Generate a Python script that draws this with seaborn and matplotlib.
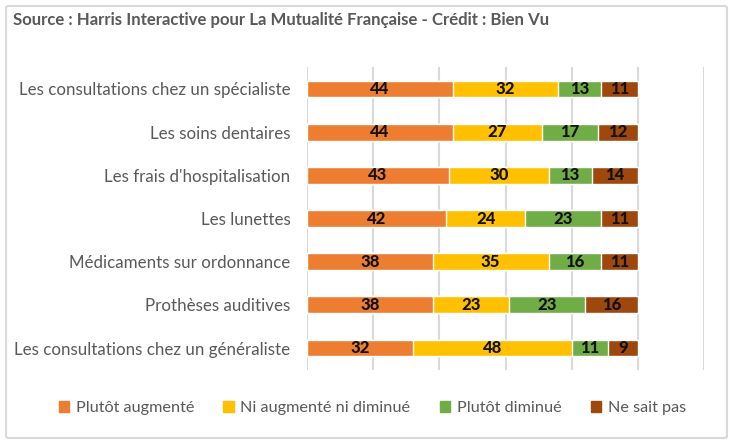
import matplotlib
matplotlib.use("Agg")
import matplotlib.pyplot as plt
import matplotlib.patches as mpatches
from matplotlib import font_manager
import seaborn as sns
import numpy as np
import pandas as pd

# donnees
categories = [
    "Les consultations chez un spécialiste",
    "Les soins dentaires",
    "Les frais d'hospitalisation",
    "Les lunettes",
    "Médicaments sur ordonnance",
    "Prothèses auditives",
    "Les consultations chez un généraliste",
]
series = ["Plutôt augmenté", "Ni augmenté ni diminué", "Plutôt diminué", "Ne sait pas"]
augmente = [44, 44, 43, 42, 38, 38, 32]
ni_ni = [32, 27, 30, 24, 35, 23, 48]
diminue = [13, 17, 13, 23, 16, 23, 11]
nsp = [11, 12, 14, 11, 11, 16, 9]
couleurs = ["#ED7D31", "#FFC000", "#70AD47", "#9E480E"]
titre = "Source : Harris Interactive pour La Mutualité Française - Crédit : Bien Vu"

sns.set_style("white")
noms = {f.name for f in font_manager.fontManager.ttflist}
police = "Lato" if "Lato" in noms else "DejaVu Sans"
plt.rcParams["font.family"] = [police, "DejaVu Sans"]

valeurs = np.array([augmente, ni_ni, diminue, nsp])
cumul = valeurs.cumsum(axis=0)
df = pd.DataFrame({"cat": categories})

fig = plt.figure(figsize=(7.33, 4.44), dpi=100)
ax = fig.add_axes([307 / 733, 1 - 369.6 / 444, (704 - 307) / 733, (369.6 - 67.4) / 444])

# barres empilees : on dessine les cumuls du plus grand au plus petit
for i in range(len(series) - 1, -1, -1):
    df["v"] = cumul[i]
    sns.barplot(data=df, x="v", y="cat", color=couleurs[i], width=0.39,
                saturation=1, ax=ax, orient="h", zorder=2)

# etiquettes de donnees
for i in range(len(series)):
    for j, cat in enumerate(categories):
        debut = cumul[i][j] - valeurs[i][j]
        ax.text(debut + valeurs[i][j] / 2, j, str(valeurs[i][j]), ha="center", va="center",
                fontsize=12, fontweight="black", color="#111111", zorder=3)

ax.set_xlim(0, 120)
ax.set_xticks(range(0, 121, 20))
ax.xaxis.grid(True, color="#D9D9D9", linewidth=1.5, zorder=0)
ax.set_axisbelow(True)
ax.tick_params(axis="x", labelbottom=False, length=0)
ax.tick_params(axis="y", length=0, labelsize=12.2, labelcolor="#595959", pad=12)
ax.set_xlabel("")
ax.set_ylabel("")
for s in ax.spines.values():
    s.set_visible(False)

fig.text(13 / 733, 1 - 20 / 444, titre, fontsize=12.1, fontweight="bold", color="#595959", va="center")

poignees = [mpatches.Patch(color=c, label=s) for c, s in zip(couleurs, series)]
fig.legend(handles=poignees, loc="center", bbox_to_anchor=(0.508, 1 - 408 / 444), ncol=4,
           frameon=False, fontsize=11.7, labelcolor="#595959", handlelength=0.65, handleheight=0.65,
           handletextpad=0.4, columnspacing=1.8)

cadre = mpatches.FancyBboxPatch((6 / 733, 6 / 444), 721 / 733, 432 / 444, boxstyle="round,pad=0,rounding_size=0.004",
                                transform=fig.transFigure, fill=False, edgecolor="#D9D9D9", linewidth=1.5)
fig.patches.append(cadre)

fig.savefig("out.png", dpi=100)
